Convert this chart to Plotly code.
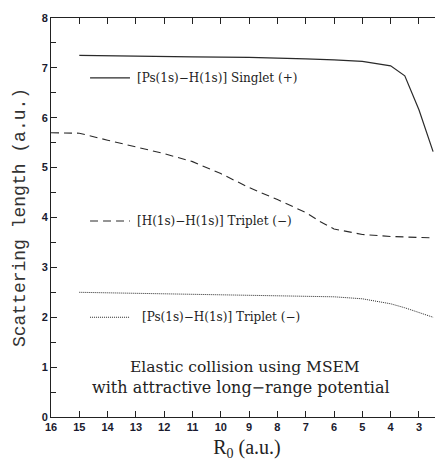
import plotly.graph_objects as go

# Data
x_singlet = [15, 13, 11, 9, 8, 7, 6, 5, 4, 3.5, 3.0, 2.5]
y_singlet = [7.25, 7.23, 7.22, 7.21, 7.20, 7.18, 7.16, 7.13, 7.04, 6.84, 6.16, 5.32]

x_hh = [16, 15, 14, 13, 12, 11, 10, 9, 8, 7, 6.5, 6, 5, 4, 3, 2.5]
y_hh = [5.70, 5.69, 5.55, 5.42, 5.28, 5.12, 4.88, 4.60, 4.36, 4.10, 3.92, 3.77, 3.66, 3.62, 3.59, 3.59]

x_trip = [15, 13, 11, 9, 7, 6, 5, 4, 3.5, 3.0, 2.5]
y_trip = [2.50, 2.48, 2.46, 2.45, 2.43, 2.41, 2.37, 2.27, 2.19, 2.10, 2.00]

labels = ["[Ps(1s)\u2212H(1s)] Singlet (+)",
          "[H(1s)\u2212H(1s)] Triplet (\u2212)",
          "[Ps(1s)\u2212H(1s)] Triplet (\u2212)"]

line_col = "#2a2a2a"
fig = go.Figure()
fig.add_trace(go.Scatter(x=x_singlet, y=y_singlet, mode="lines",
                         line=dict(color=line_col, width=1.2), showlegend=False))
fig.add_trace(go.Scatter(x=x_hh, y=y_hh, mode="lines",
                         line=dict(color=line_col, width=1.1, dash="8px,5px"), showlegend=False))
fig.add_trace(go.Scatter(x=x_trip, y=y_trip, mode="lines",
                         line=dict(color=line_col, width=1.0, dash="1px,1px"), showlegend=False))
# right-side mirrored ticks (no line)
fig.add_trace(go.Scatter(x=[16], y=[0], yaxis="y2", mode="lines",
                         line=dict(width=0), hoverinfo="skip", showlegend=False))

serif = "DejaVu Serif, serif"
legend_rows = [(6.80, "solid", 135), (3.93, "8px,5px", 135), (2.00, "1px,1px", 140)]
for (yy, dash, tx), lab in zip(legend_rows, labels):
    fig.add_shape(type="line", x0=14.62, x1=13.21, y0=yy, y1=yy,
                  line=dict(color=line_col, width=1.1, dash=dash))
    fig.add_annotation(x=16 - (tx - 51) / 28.31, y=yy, text=lab, showarrow=False,
                       xanchor="left", yanchor="middle",
                       font=dict(family=serif, size=12, color="#222"))

fig.add_annotation(x=9.15, y=1.0, text="Elastic collision using MSEM", showarrow=False,
                   xanchor="center", yanchor="middle",
                   font=dict(family=serif, size=15.5, color="#222"))
fig.add_annotation(x=9.3, y=0.6, text="with attractive long\u2212range potential", showarrow=False,
                   xanchor="center", yanchor="middle",
                   font=dict(family=serif, size=16, color="#222"))

fig.update_layout(
    width=435, height=453,
    margin=dict(l=43, r=0, t=10, b=44, autoexpand=False),
    paper_bgcolor="white", plot_bgcolor="white",
    xaxis=dict(range=[16, 2.15], automargin=False,
               tickvals=list(range(3, 17)),
               ticks="inside", ticklen=6, tickcolor="#222", tickwidth=1,
               showline=True, linecolor="#222", linewidth=1, mirror="ticks",
               showgrid=False, zeroline=False,
               tickfont=dict(family="Liberation Sans, Arial", size=11, color="#1a1a2e", weight="bold"),
               title=dict(text="R<sub>0</sub> (a.u.)", font=dict(family="Liberation Serif, serif", size=20, color="#222"),
                          standoff=22)),
    yaxis=dict(range=[0, 8], tickmode="linear", tick0=0, dtick=1, automargin=False,
               ticks="inside", ticklen=6, tickcolor="#222", tickwidth=1,
               minor=dict(dtick=0.5, ticks="inside", ticklen=5, tickcolor="#222"),
               showline=True, linecolor="#222", linewidth=1,
               showgrid=False, zeroline=False,
               tickfont=dict(family="Liberation Sans, Arial", size=11, color="#1a1a2e", weight="bold"),
               title=dict(text="Scattering length (a.u.)",
                          font=dict(family="Liberation Mono, Courier New, monospace", size=18, color="#333"),
                          standoff=11)),
    yaxis2=dict(range=[0, 8], overlaying="y", side="right", tickmode="linear", dtick=1,
                ticks="inside", ticklen=4, tickcolor="#222", showticklabels=False,
                showline=False, showgrid=False, zeroline=False),
)
fig.write_html("out.html")
